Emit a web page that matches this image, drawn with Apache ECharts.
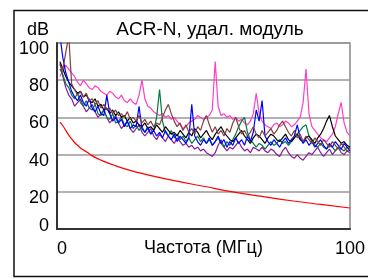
<!DOCTYPE html>
<html>
<head>
<meta charset="utf-8">
<script src="https://cdn.jsdelivr.net/npm/echarts@6/dist/echarts.min.js"></script>
<style>
  html, body { margin: 0; padding: 0; background: #fff; }
  #chart { width: 368px; height: 279px; }
</style>
</head>
<body>
<div id="chart"></div>
<script>
// frequency points, MHz
const freqMHz = [1,2,3,4,5,6,7,8,9,10,11,12,13,14,15,16,17,18,19,20,
  21,22,23,24,25,26,27,28,29,30,31,32,33,34,35,36,37,38,39,40,
  41,42,43,44,45,46,47,48,49,50,51,52,53,54,55,56,57,58,59,60,
  61,62,63,64,65,66,67,68,69,70,71,72,73,74,75,76,77,78,79,80,
  81,82,83,84,85,86,87,88,89,90,91,92,93,94,95,96,97,98,99,100];

// ACR-N per pair, dB
const pairBlue = [104,92,84,79,74,71,69,72,68,66,70,65,63,66,62,61,72,62,58,60,
  57,59,55,58,54,56,55,66,54,52,55,51,53,50,52,49,53,50,48,51,
  47,50,48,46,49,67,50,47,45,48,46,49,45,47,50,46,48,44,47,45,
  49,46,48,45,50,47,52,64,58,69,50,47,45,48,46,44,47,49,46,48,
  50,56,49,46,48,45,47,44,46,48,45,43,46,44,47,45,43,46,44,42];
const pairBrown = [88,86,95,104,78,75,72,74,71,73,69,70,67,69,65,67,64,65,62,64,
  61,62,60,63,59,60,58,61,57,59,56,58,55,57,56,60,64,67,62,58,
  55,57,53,56,52,54,51,55,53,58,61,56,52,55,51,53,50,54,52,57,
  60,55,51,53,50,52,55,51,49,53,50,52,54,51,53,56,58,55,52,50,
  53,49,51,47,50,48,46,49,47,45,48,46,44,47,45,43,46,44,42,43];
const pairBlack = [90,86,82,79,77,75,73,74,71,72,69,68,70,66,67,64,65,62,64,61,
  63,60,61,58,60,57,58,56,55,57,54,55,53,56,54,52,55,53,51,52,
  50,53,51,49,52,50,54,52,49,51,53,50,48,51,53,55,52,50,48,47,
  49,51,53,50,48,46,49,51,50,48,46,49,51,50,48,47,49,51,48,47,
  49,51,48,47,49,50,48,46,49,51,54,58,61,55,50,48,46,47,45,44];
const pairGreen = [86,83,78,76,72,70,73,68,66,69,65,64,67,62,61,64,60,59,62,57,
  58,60,56,55,58,54,56,53,55,52,54,51,53,60,75,58,52,50,53,49,
  51,48,50,47,49,46,48,50,47,49,46,48,45,47,49,46,44,47,45,48,
  51,55,58,60,52,48,46,44,46,45,43,45,47,45,46,48,46,47,45,47,
  49,51,53,55,56,50,47,45,44,46,44,43,45,44,42,44,43,42,44,43];
const pairPurple = [89,82,76,72,70,66,68,70,66,63,65,67,63,60,62,64,60,57,59,61,
  57,54,56,58,54,52,54,56,52,50,52,54,50,48,51,49,47,50,48,46,
  49,47,45,46,44,45,43,44,42,43,41,40,39,41,45,48,44,42,44,43,
  45,47,44,42,43,41,44,43,42,44,42,41,43,42,40,39,42,44,41,39,
  38,40,38,37,39,41,40,42,44,41,39,41,43,40,42,44,41,40,42,41];
const pairPink = [82,85,88,86,84,82,79,77,80,78,76,75,77,76,74,73,72,74,73,71,
  70,72,69,68,70,68,67,72,80,70,66,65,63,62,61,62,60,61,59,60,
  58,56,54,55,57,58,59,61,60,59,60,61,64,90,66,61,62,60,61,59,
  60,58,59,57,56,58,62,73,62,58,56,55,54,56,57,55,56,58,57,55,
  56,58,60,68,86,62,55,53,51,49,48,47,49,51,55,62,68,57,52,50];

// limit line
const limitFreqMHz = [1,2,3,4,5,6,7,8,9,10,13,15,20,25,30,40,50,60,70,80,90,100];
const limitACRN = [57.5,55.5,53,50.5,48.5,46.5,45,43.5,42.5,41.5,38.5,37,34,31.5,29.5,26,23,20,17.5,15.2,13.2,11.3];

const chart = echarts.init(document.getElementById('chart'));

const font = '"Liberation Sans", Arial, sans-serif';

function pairs(xs, ys) {
  return xs.map((x, i) => [x, ys[i]]);
}

const lineShared = {
  type: 'line',
  symbol: 'none',
  clip: true,
  lineStyle: { width: 1.2 },
};

const option = {
  animation: false,
  textStyle: { fontFamily: font },
  title: {
    text: 'ACR-N, удал. модуль',
    left: 205,
    textAlign: 'center',
    top: 15,
    textStyle: { fontSize: 19, fontWeight: 'normal', color: '#000', fontFamily: font },
  },
  graphic: [{
    type: 'rect',
    z: -1,
    shape: { x: 14, y: 10.5, width: 370, height: 266 },
    style: { fill: 'none', stroke: '#111', lineWidth: 1.5 },
  }],
  grid: {
    left: 57, top: 43, width: 300, height: 186,
    show: true, borderColor: '#888', borderWidth: 1.5, backgroundColor: '#fff',
  },
  xAxis: {
    type: 'value',
    min: 0, max: 100, interval: 100,
    name: 'Частота (МГц)',
    nameLocation: 'middle',
    nameGap: 19,
    nameMoveOverlap: false,
    nameTextStyle: { fontSize: 18, color: '#000', verticalAlign: 'middle', fontFamily: font },
    axisLine: { show: true, lineStyle: { color: '#333', width: 2 } },
    axisTick: { show: false },
    splitLine: { show: false },
    axisLabel: {
      fontSize: 18, color: '#000', margin: 11, fontFamily: font,
      alignMinLabel: 'left', alignMaxLabel: 'center',
    },
  },
  yAxis: [{
    type: 'value',
    min: 0, max: 100, interval: 20,
    name: 'dB',
    nameLocation: 'end',
    nameGap: 13,
    nameMoveOverlap: false,
    nameTextStyle: { fontSize: 18, color: '#000', align: 'right', verticalAlign: 'middle', padding: [0, 8, 0, 0], fontFamily: font },
    axisLine: { show: true, lineStyle: { color: '#333', width: 2 } },
    axisTick: { show: false },
    splitLine: { show: true, lineStyle: { color: '#999', width: 1.5 } },
    // labels sit a little below their gridlines
    axisLabel: {
      fontSize: 18, color: '#000', margin: 8, fontFamily: font,
      verticalAlign: 'top', lineHeight: 12, showMinLabel: false,
    },
  }, {
    // the bottom "0" sits a little above the axis line
    type: 'value',
    position: 'left',
    min: 0, max: 100, interval: 100,
    axisLine: { show: false },
    axisTick: { show: false },
    splitLine: { show: false },
    axisLabel: {
      fontSize: 18, color: '#000', margin: 8, fontFamily: font,
      verticalAlign: 'bottom', lineHeight: 6, showMaxLabel: false,
    },
  }],
  series: [
    { ...lineShared, name: 'limit', data: pairs(limitFreqMHz, limitACRN), smooth: true, color: '#ff0000' },
    { ...lineShared, name: 'pink', data: pairs(freqMHz, pairPink), color: '#ff3fc0' },
    { ...lineShared, name: 'purple', data: pairs(freqMHz, pairPurple), color: '#8a1a9e' },
    { ...lineShared, name: 'green', data: pairs(freqMHz, pairGreen), color: '#007a3d' },
    { ...lineShared, name: 'black', data: pairs(freqMHz, pairBlack), color: '#000000' },
    { ...lineShared, name: 'blue', data: pairs(freqMHz, pairBlue), color: '#0000ff' },
    { ...lineShared, name: 'brown', data: pairs(freqMHz, pairBrown), color: '#804040' },
  ],
};

chart.setOption(option);
</script>
</body>
</html>
